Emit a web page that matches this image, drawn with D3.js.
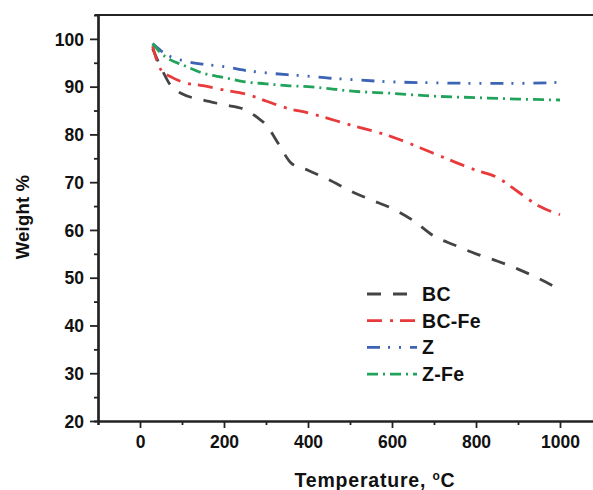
<!DOCTYPE html>
<html>
<head>
<meta charset="utf-8">
<script src="https://cdn.jsdelivr.net/npm/d3@7"></script>
<style>
  body { margin: 0; background: #fff; }
  text { font-family: "Liberation Sans", Arial, sans-serif; font-weight: bold; fill: #111; }
</style>
</head>
<body>
<div id="chart"></div>
<script>
//##### TGA curves #####

var seriesNames = ["BC", "BC-Fe", "Z", "Z-Fe"];

var bcTemp = [30, 50, 75, 100, 150, 200, 250, 280, 300, 330, 360, 400, 450, 500, 550, 600, 650, 700, 750, 800, 850, 900, 950, 1000];
var bcWeight = [98, 94, 90, 88.5, 87.2, 86.2, 85.2, 83.5, 82, 78, 74, 72.5, 70.5, 68.2, 66.3, 64.5, 62, 58.7, 56.8, 55, 53.5, 51.8, 49.8, 47.5];

var bcFeTemp = [30, 50, 75, 100, 150, 200, 250, 300, 350, 400, 500, 600, 700, 800, 850, 900, 950, 1000];
var bcFeWeight = [98.5, 93.5, 92, 91, 90.2, 89.3, 88.5, 87, 85.5, 84.5, 82, 79.5, 76, 72.5, 71, 68, 65, 63.2];

var zTemp = [30, 50, 75, 100, 150, 200, 250, 300, 350, 400, 450, 500, 600, 700, 800, 900, 1000];
var zWeight = [99, 97.5, 96.2, 95.5, 94.7, 94.2, 93.4, 92.9, 92.5, 92.2, 91.8, 91.5, 91, 90.8, 90.7, 90.7, 90.9];

var zFeTemp = [30, 50, 75, 100, 150, 200, 250, 300, 350, 400, 450, 500, 600, 700, 800, 900, 1000];
var zFeWeight = [99, 97, 95.5, 94.6, 92.8, 91.9, 91, 90.6, 90.2, 90, 89.6, 89.1, 88.6, 88, 87.7, 87.4, 87.2];

var xTicks = [0, 200, 400, 600, 800, 1000];
var yTicks = [20, 30, 40, 50, 60, 70, 80, 90, 100];

var colors = { "BC": "#444444", "BC-Fe": "#e8393b", "Z": "#3c63b4", "Z-Fe": "#22a35b" };
var dashes = { "BC": "14,12", "BC-Fe": "15,8,3,7", "Z": "13,8,2,9,2,9", "Z-Fe": "11,5,2,5" };

var series = [
  { name: "BC", values: d3.zip(bcTemp, bcWeight) },
  { name: "BC-Fe", values: d3.zip(bcFeTemp, bcFeWeight) },
  { name: "Z", values: d3.zip(zTemp, zWeight) },
  { name: "Z-Fe", values: d3.zip(zFeTemp, zFeWeight) }
];

var width = 593,
  height = 490,
  margin = { top: 15, left: 98 },
  plotW = 504,
  plotH = 406;

var svg = d3
  .select("#chart")
  .append("svg")
  .attr("width", width)
  .attr("height", height);

var x = d3.scaleLinear().domain([-100, 1100]).range([margin.left, margin.left + plotW]);
var y = d3.scaleLinear().domain([20, 105]).range([margin.top + plotH, margin.top]);

// minor ticks
var xMinor = d3.range(-100, 1101, 100).filter(function(d) { return xTicks.indexOf(d) < 0; });
var yMinor = d3.range(25, 105, 10);

var axisColor = "#222";

// x axis
var xAxis = svg.append("g").attr("transform", "translate(0," + (margin.top + plotH) + ")");
xAxis.call(d3.axisBottom(x).tickValues(xTicks).tickFormat(d3.format("d")).tickSize(7).tickSizeOuter(0).tickPadding(8));
xAxis.append("g").call(d3.axisBottom(x).tickValues(xMinor).tickSize(4).tickFormat(""));

// y axis
var yAxis = svg.append("g").attr("transform", "translate(" + margin.left + ",0)");
yAxis.call(d3.axisLeft(y).tickValues(yTicks).tickSize(8).tickSizeOuter(0).tickPadding(6));
yAxis.append("g").call(d3.axisLeft(y).tickValues(yMinor).tickSize(4).tickFormat(""));

svg.selectAll(".domain").attr("stroke", axisColor).attr("stroke-width", 2.2);
svg.selectAll(".tick line").attr("stroke", axisColor).attr("stroke-width", 1.8);
svg.selectAll(".tick text").style("font-size", "17.5px").attr("fill", "#111");
yAxis.selectAll(".tick text").attr("dy", "0.35em");

// top border
svg.append("line")
  .attr("x1", margin.left - 3)
  .attr("x2", width)
  .attr("y1", margin.top)
  .attr("y2", margin.top)
  .attr("stroke", axisColor)
  .attr("stroke-width", 2.2);

// lines
var line = d3
  .line()
  .x(function(d) { return x(d[0]); })
  .y(function(d) { return y(d[1]); })
  .curve(d3.curveMonotoneX);

svg.append("g")
  .selectAll("path")
  .data(series)
  .enter()
  .append("path")
  .attr("d", function(d) { return line(d.values); })
  .attr("fill", "none")
  .attr("stroke", function(d) { return colors[d.name]; })
  .attr("stroke-width", 2.8)
  .attr("stroke-dasharray", function(d) { return dashes[d.name]; });

// axis titles
svg.append("text")
  .attr("transform", "translate(29,217) rotate(-90)")
  .attr("text-anchor", "middle")
  .style("font-size", "18.5px")
  .style("letter-spacing", "0.2px")
  .text("Weight %");

var xt = svg.append("text")
  .attr("x", 375)
  .attr("y", 487)
  .attr("text-anchor", "middle")
  .style("font-size", "19.5px")
  .style("letter-spacing", "0.8px");
xt.append("tspan").text("Temperature, ");
xt.append("tspan").attr("dy", -7).style("font-size", "12px").text("o");
xt.append("tspan").attr("dy", 7).text("C");

// legend
var legend = svg
  .append("g")
  .selectAll("g")
  .data(seriesNames)
  .enter()
  .append("g")
  .attr("transform", function(d, i) {
    return "translate(367," + (294 + i * 26.7) + ")";
  });
legend
  .append("line")
  .attr("x1", 0)
  .attr("x2", 50)
  .attr("stroke", function(d) { return colors[d]; })
  .attr("stroke-width", 2.8)
  .attr("stroke-dasharray", function(d) { return dashes[d]; });
legend
  .append("text")
  .attr("x", 55)
  .attr("dy", "0.36em")
  .style("font-size", "19.5px")
  .style("letter-spacing", "0.3px")
  .text(function(d) { return d; });
</script>
</body>
</html>
